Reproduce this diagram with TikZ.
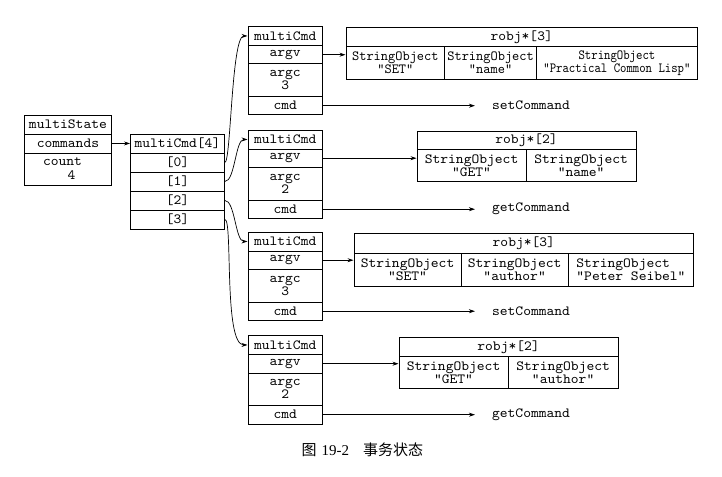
\documentclass[tikz,border=0pt]{standalone}
\usepackage{fontspec}
\setmainfont{Liberation Serif}
\setmonofont[FakeStretch=1.06]{lmmono10-regular.otf}
\newfontfamily\cjk{Noto Sans CJK SC}
\newfontfamily\monoA[FakeStretch=0.98]{lmmono10-regular.otf}
\newfontfamily\monoB[FakeStretch=0.87]{lmmono10-regular.otf}
\usetikzlibrary{arrows.meta}
\newcommand\msz{\fontsize{14}{13}\selectfont}
\tikzset{
  cell/.style={draw, line width=0.9pt, inner sep=0pt, anchor=north west, align=center, font=\ttfamily\msz},
  arr/.style={line width=0.7pt, -{Stealth[length=6pt,width=4pt]}},
  plain/.style={font=\ttfamily\msz, inner sep=0pt},
}
\begin{document}
\begin{tikzpicture}[x=1pt,y=-1pt]
\useasboundingbox (0,0) rectangle (722,476);
% multiState
\node[cell, minimum width=87pt, minimum height=18.5pt] (ms) at (24,115) {multiState};
\node[cell, minimum width=87pt, minimum height=19pt] (cmds) at (24,133.5) {commands};
\node[cell, minimum width=87pt, minimum height=32.5pt] (cnt) at (24,152.5) {};
\node[plain] (cntl) at (62.5,161.7) {count};
\node[plain] (cntv) at (71.5,175) {4};
% multiCmd[4]
\node[cell, minimum width=94pt, minimum height=19pt] (mc) at (130,133.5) {multiCmd[4]};
\node[cell, minimum width=94pt, minimum height=19pt] (r0) at (130,152.5) {[0]};
\node[cell, minimum width=94pt, minimum height=19pt] (r1) at (130,171.5) {[1]};
\node[cell, minimum width=94pt, minimum height=19pt] (r2) at (130,190.5) {[2]};
\node[cell, minimum width=94pt, minimum height=19pt] (r3) at (130,209.5) {[3]};
% multiCmd boxes
\foreach \k/\T/\n in {1/26/3, 2/129.5/2, 3/231.5/3, 4/335/2}{
  \node[cell, minimum width=74.5pt, minimum height=19pt] (h\k) at (247.5,\T) {multiCmd};
  \node[cell, minimum width=74.5pt, minimum height=18.5pt] (argv\k) at (247.5,\T+19) {argv};
  \node[cell, minimum width=74.5pt, minimum height=32.5pt] (argc\k) at (247.5,\T+37.5) {argc\\\n};
  \node[cell, minimum width=74.5pt, minimum height=18.5pt] (cmd\k) at (247.5,\T+70) {cmd};
}
% array 1
\node[cell, minimum width=351.5pt, minimum height=18.7pt] (a1h) at (345.5,27.3) {robj*[3]};
\node[cell, minimum width=98.8pt, minimum height=33pt, font=\monoA\msz] (a1c1) at (345.5,46) {StringObject\\"SET"};
\node[cell, minimum width=91.7pt, minimum height=33pt, font=\monoA\msz] (a1c2) at (444.3,46) {StringObject\\"name"};
\node[cell, minimum width=161pt, minimum height=33pt, font=\monoB\msz] (a1c3) at (536,46) {StringObject\\"Practical Common Lisp"};
% array 2
\node[cell, minimum width=219.2pt, minimum height=18.6pt] (a2h) at (416.5,130.7) {robj*[2]};
\node[cell, minimum width=109.2pt, minimum height=31.7pt] (a2c1) at (416.5,149.3) {StringObject\\"GET"};
\node[cell, minimum width=110pt, minimum height=31.7pt] (a2c2) at (525.7,149.3) {StringObject\\"name"};
% array 3
\node[cell, minimum width=339.8pt, minimum height=19.4pt] (a3h) at (353.5,233.3) {robj*[3]};
\node[cell, minimum width=107.2pt, minimum height=33pt] (a3c1) at (353.5,252.7) {StringObject\\"SET"};
\node[cell, minimum width=107pt, minimum height=33pt] (a3c2) at (460.7,252.7) {StringObject\\"author"};
\node[cell, minimum width=125.6pt, minimum height=33pt, align=left] (a3c3) at (567.7,252.7) {StringObject\\"Peter Seibel"};
% array 4
\node[cell, minimum width=219.2pt, minimum height=18.2pt] (a4h) at (398.5,337.3) {robj*[2]};
\node[cell, minimum width=109.2pt, minimum height=32.8pt] (a4c1) at (398.5,355.5) {StringObject\\"GET"};
\node[cell, minimum width=110pt, minimum height=32.8pt] (a4c2) at (507.7,355.5) {StringObject\\"author"};
% command texts
\node[plain, anchor=west] (f1) at ([xshift=169pt]cmd1.east) {setCommand};
\node[plain, anchor=west] (f2) at ([xshift=169pt]cmd2.east) {getCommand};
\node[plain, anchor=west] (f3) at ([xshift=169pt]cmd3.east) {setCommand};
\node[plain, anchor=west] (f4) at ([xshift=169pt]cmd4.east) {getCommand};
% connectors
\draw[arr] (cmds.east) -- (mc.west);
\draw[arr] (r0.east) .. controls +(6,0) and +(-16,0) .. (h1.west);
\draw[arr] (r1.east) .. controls +(10,0) and +(-12,0) .. (h2.west);
\draw[arr] (r2.east) .. controls +(10,0) and +(-12,0) .. (h3.west);
\draw[arr] (r3.east) .. controls +(8,0) and +(-24,0) .. (h4.west);
\draw[arr] (argv1.east) -- (argv1.east -| a1c1.west);
\draw[arr] (argv2.east) -- (argv2.east -| a2c1.west);
\draw[arr] (argv3.east) -- (argv3.east -| a3c1.west);
\draw[arr] (argv4.east) -- (argv4.east -| a4c1.west);
\foreach \k in {1,2,3,4}{
  \draw[arr, shorten >=17pt] (cmd\k.east) -- (f\k.west);
}
% caption
\node[anchor=west, inner sep=0pt, font=\fontsize{15}{15}\selectfont] (cap) at (301.5,450) {{\cjk 图}\hspace{5pt}19-2\hspace{14pt}{\cjk 事务状态}};
\end{tikzpicture}
\end{document}
